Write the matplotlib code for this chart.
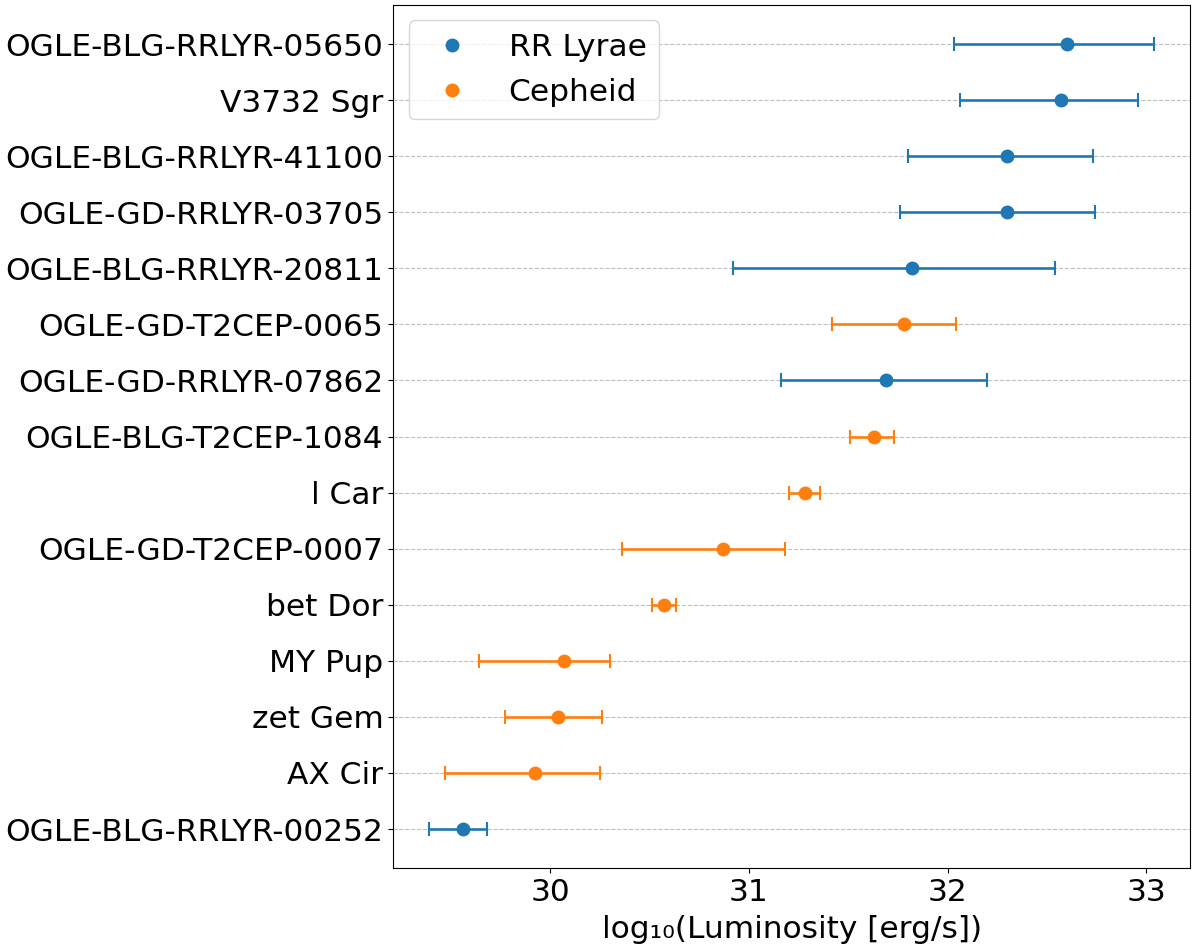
import numpy as np
import matplotlib
matplotlib.use("Agg")
import matplotlib.pyplot as plt
from matplotlib.lines import Line2D

# Stars, ordered from bottom to top
names = ["OGLE-BLG-RRLYR-00252", "AX Cir", "zet Gem", "MY Pup", "bet Dor",
         "OGLE-GD-T2CEP-0007", "l Car", "OGLE-BLG-T2CEP-1084",
         "OGLE-GD-RRLYR-07862", "OGLE-GD-T2CEP-0065", "OGLE-BLG-RRLYR-20811",
         "OGLE-GD-RRLYR-03705", "OGLE-BLG-RRLYR-41100", "V3732 Sgr",
         "OGLE-BLG-RRLYR-05650"]
kinds = ["RR", "Cep", "Cep", "Cep", "Cep",
         "Cep", "Cep", "Cep",
         "RR", "Cep", "RR",
         "RR", "RR", "RR",
         "RR"]
logL = [29.56, 29.92, 30.04, 30.07, 30.57,
        30.87, 31.28, 31.63,
        31.69, 31.78, 31.82,
        32.30, 32.30, 32.57,
        32.60]
lower = [29.39, 29.47, 29.77, 29.64, 30.51,
         30.36, 31.20, 31.51,
         31.16, 31.42, 30.92,
         31.76, 31.80, 32.06,
         32.03]
upper = [29.68, 30.25, 30.26, 30.30, 30.63,
         31.18, 31.36, 31.73,
         32.20, 32.04, 32.54,
         32.74, 32.73, 32.96,
         33.04]

colors = {"RR": "tab:blue", "Cep": "tab:orange"}

logL = np.array(logL)
err_lo = logL - np.array(lower)
err_hi = np.array(upper) - logL
y = np.arange(len(names))

fig, ax = plt.subplots(figsize=(12, 9.51), dpi=100)
fig.subplots_adjust(left=0.3275, right=0.992, top=0.995, bottom=0.087)

for i in range(len(names)):
    ax.errorbar(logL[i], y[i], xerr=[[err_lo[i]], [err_hi[i]]], fmt="o",
                color=colors[kinds[i]], ms=9, elinewidth=1.9, capsize=5,
                capthick=1.5, zorder=3)

ax.set_yticks(y)
ax.set_yticklabels(names, fontsize=22.5)
ax.tick_params(axis="x", labelsize=22.5)
ax.set_xticks([30, 31, 32, 33])
ax.set_xlabel("log₁₀(Luminosity [erg/s])", fontsize=22.5, labelpad=6)
ax.grid(axis="y", linestyle="--", color="gray", alpha=0.5)

handles = [Line2D([], [], marker="o", linestyle="none", color="tab:blue", ms=9),
           Line2D([], [], marker="o", linestyle="none", color="tab:orange", ms=9)]
ax.legend(handles, ["RR Lyrae", "Cepheid"], loc="upper left", fontsize=22.5)

plt.savefig("out.png")
